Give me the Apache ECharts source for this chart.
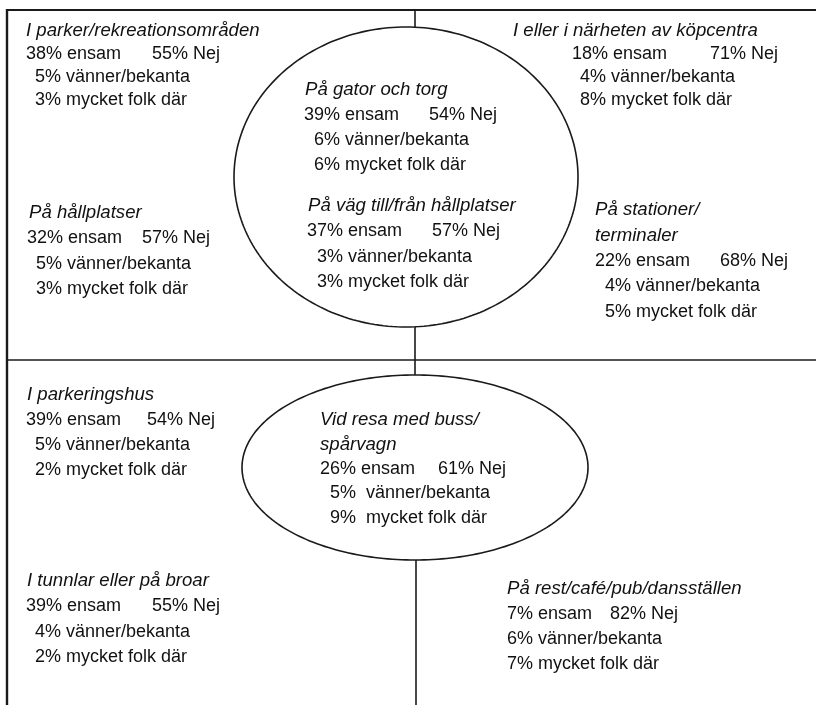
<!DOCTYPE html>
<html>
<head>
<meta charset="utf-8">
<script src="https://cdn.jsdelivr.net/npm/echarts@6/dist/echarts.min.js"></script>
<style>
html,body{margin:0;padding:0;background:#fff;}
#main{width:816px;height:705px;}
</style>
</head>
<body>
<div id="main"></div>
<script>
// ---- data ----
const categories = [
  'I parker/rekreationsområden',
  'I eller i närheten av köpcentra',
  'På gator och torg',
  'På väg till/från hållplatser',
  'På hållplatser',
  'På stationer/\nterminaler',
  'I parkeringshus',
  'Vid resa med buss/\nspårvagn',
  'I tunnlar eller på broar',
  'På rest/café/pub/dansställen'
];
const ensam  = [38, 18, 39, 37, 32, 22, 39, 26, 39, 7];
const nej    = [55, 71, 54, 57, 57, 68, 54, 61, 55, 82];
const vanner = [5, 4, 6, 3, 5, 4, 5, 5, 4, 6];
const folk   = [3, 8, 6, 3, 3, 5, 2, 9, 2, 7];
const labelEnsam = 'ensam';
const labelNej = 'Nej';
const labelVanner = 'vänner/bekanta';
const labelFolk = 'mycket folk där';

// ---- layout (positions in page pixels, used as a hidden value-axis space) ----
const W = 816, H = 705;
const layout = [
  {tx: 26,  ty: 31,  nx: 26,  ix: 35,  jx: 152, gap: 23, sep: ' '},
  {tx: 513, ty: 31,  nx: 572, ix: 580, jx: 710, gap: 23, sep: ' '},
  {tx: 305, ty: 90,  nx: 304, ix: 314, jx: 429, gap: 25, sep: ' '},
  {tx: 308, ty: 206, nx: 307, ix: 317, jx: 432, gap: 25.5, sep: ' '},
  {tx: 29,  ty: 213, nx: 27,  ix: 36,  jx: 142, gap: 25.5, sep: ' '},
  {tx: 595, ty: 210, nx: 595, ix: 605, jx: 720, gap: 25.5, sep: ' '},
  {tx: 27,  ty: 395, nx: 26,  ix: 35,  jx: 147, gap: 25, sep: ' '},
  {tx: 320, ty: 420, nx: 320, ix: 330, jx: 438, gap: 24.5, sep: '  '},
  {tx: 27,  ty: 581, nx: 26,  ix: 35,  jx: 152, gap: 25.3, sep: ' '},
  {tx: 507, ty: 589, nx: 507, ix: 507, jx: 610, gap: 25, sep: ' '}
];
const frameColor = '#1a1a1a';
const textColor = '#111';
const FONT = '"Liberation Sans", Arial, Helvetica, sans-serif';
const FS = 18;
const FS_TITLE = 18.6;

const chart = echarts.init(document.getElementById('main'), null, {renderer: 'canvas'});

function lineEl(api, x1, y1, x2, y2, w) {
  const a = api.coord([x1, y1]), b = api.coord([x2, y2]);
  return {type: 'line', shape: {x1: a[0], y1: a[1], x2: b[0], y2: b[1]},
    style: {stroke: frameColor, lineWidth: w}};
}
function ellipseEl(api, cx, cy, rx, ry) {
  const pts = [];
  for (let k = 0; k < 240; k++) {
    const t = k / 240 * Math.PI * 2;
    pts.push(api.coord([cx + rx * Math.cos(t), cy + ry * Math.sin(t)]));
  }
  return {type: 'polygon', shape: {points: pts},
    style: {fill: 'none', stroke: frameColor, lineWidth: 1.6}};
}
function renderFrame(params, api) {
  return {type: 'group', children: [
    lineEl(api, 7, 10, W, 10, 2),
    lineEl(api, 7, 9, 7, H, 2.4),
    lineEl(api, 7, 360, W, 360, 1.6),
    lineEl(api, 415, 10, 415, 27, 1.6),
    lineEl(api, 415, 327, 415, 375, 1.6),
    lineEl(api, 416, 560, 416, H, 1.6),
    ellipseEl(api, 406, 177, 172, 150),
    ellipseEl(api, 415, 467.5, 173, 92.5)
  ]};
}
function txt(api, x, y, s, italic) {
  const p = api.coord([x, y]);
  return {type: 'text', x: p[0], y: p[1], style: {
    text: s, fill: textColor, fontFamily: FONT, fontSize: italic ? FS_TITLE : FS,
    fontStyle: italic ? 'italic' : 'normal', align: 'left', verticalAlign: 'middle'}};
}
function renderBlock(params, api) {
  const i = api.value(2);
  const L = layout[i];
  const kids = [];
  const titleLines = categories[i].split('\n');
  let y = L.ty;
  titleLines.forEach(t => { kids.push(txt(api, L.tx, y, t, true)); y += L.gap; });
  kids.push(txt(api, L.nx, y, ensam[i] + '% ' + labelEnsam, false));
  kids.push(txt(api, L.jx, y, nej[i] + '% ' + labelNej, false));
  y += L.gap;
  kids.push(txt(api, L.ix, y, vanner[i] + '%' + L.sep + labelVanner, false));
  y += L.gap;
  kids.push(txt(api, L.ix, y, folk[i] + '%' + L.sep + labelFolk, false));
  return {type: 'group', children: kids};
}

chart.setOption({
  animation: false,
  backgroundColor: '#fff',
  grid: {left: 0, right: 0, top: 0, bottom: 0},
  xAxis: {type: 'value', min: 0, max: W, show: false},
  yAxis: {type: 'value', min: 0, max: H, inverse: true, show: false},
  series: [
    {type: 'custom', renderItem: renderFrame, data: [[0, 0]], silent: true},
    {type: 'custom', renderItem: renderBlock,
     data: layout.map((l, i) => [l.tx, l.ty, i]), silent: true}
  ]
});
</script>
</body>
</html>
